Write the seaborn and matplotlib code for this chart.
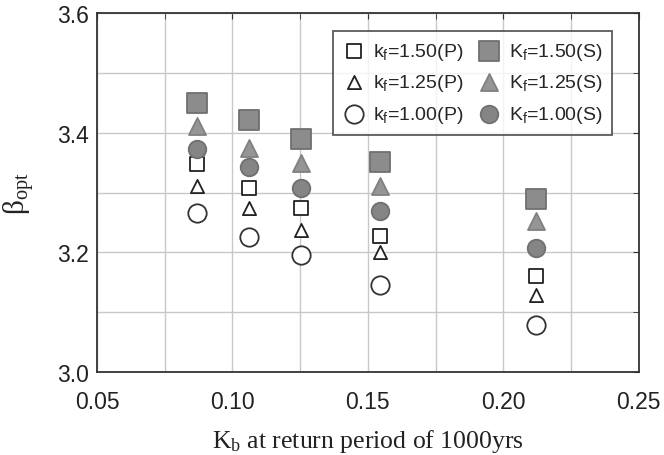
import numpy as np
import pandas as pd
import matplotlib
matplotlib.use("Agg")
import matplotlib.pyplot as plt
from matplotlib.ticker import MultipleLocator, FormatStrFormatter
import seaborn as sns

# Kb at return period of 1000yrs
kb = [0.087, 0.106, 0.1255, 0.1545, 0.212]

# beta_opt, P = open markers, S = filled markers
p150 = [3.348, 3.308, 3.275, 3.227, 3.161]
p125 = [3.311, 3.275, 3.238, 3.201, 3.128]
p100 = [3.266, 3.225, 3.195, 3.145, 3.079]
s150 = [3.449, 3.421, 3.389, 3.351, 3.289]
s125 = [3.411, 3.375, 3.350, 3.311, 3.253]
s100 = [3.373, 3.342, 3.307, 3.269, 3.207]

labels = [r"$\mathregular{k_f}$=1.50(P)", r"$\mathregular{k_f}$=1.25(P)", r"$\mathregular{k_f}$=1.00(P)",
          r"$\mathregular{K_f}$=1.50(S)", r"$\mathregular{K_f}$=1.25(S)", r"$\mathregular{K_f}$=1.00(S)"]
series = [p150, p125, p100, s150, s125, s100]

sns.set_style("white")
plt.rcParams["font.family"] = ["Liberation Sans", "DejaVu Sans"]

df = pd.DataFrame({
    "kb": kb * len(series),
    "beta": np.concatenate(series),
    "grp": np.repeat(labels, len(kb)),
})

fig, ax = plt.subplots(figsize=(6.64, 4.56), dpi=100)
fig.subplots_adjust(left=0.146, right=0.962, top=0.969, bottom=0.182)

styles = {
    labels[0]: dict(marker="s", s=115, facecolor="white", edgecolor="#222222"),
    labels[1]: dict(marker="^", s=90, facecolor="white", edgecolor="#222222"),
    labels[2]: dict(marker="o", s=175, facecolor="white", edgecolor="#333333"),
    labels[3]: dict(marker="s", s=190, facecolor="#8c8c8c", edgecolor="#707070"),
    labels[4]: dict(marker="^", s=150, facecolor="#959595", edgecolor="#808080"),
    labels[5]: dict(marker="o", s=160, facecolor="#858585", edgecolor="#707070"),
}

for lab in labels:
    sub = df[df["grp"] == lab]
    st = styles[lab]
    sns.scatterplot(data=sub, x="kb", y="beta", ax=ax, marker=st["marker"], s=st["s"],
                    color=st["facecolor"], edgecolor=st["edgecolor"], linewidth=1.3,
                    label=lab, zorder=3)

ax.set_xlim(0.05, 0.25)
ax.set_ylim(3.0, 3.6)
ax.xaxis.set_major_locator(MultipleLocator(0.05))
ax.xaxis.set_minor_locator(MultipleLocator(0.025))
ax.yaxis.set_major_locator(MultipleLocator(0.2))
ax.yaxis.set_minor_locator(MultipleLocator(0.1))
ax.xaxis.set_major_formatter(FormatStrFormatter("%.2f"))
ax.yaxis.set_major_formatter(FormatStrFormatter("%.1f"))
ax.grid(True, which="both", color="#c8c8c8", linewidth=1.0, zorder=0)
ax.set_axisbelow(True)
ax.tick_params(which="both", direction="in", top=True, right=True, length=4,
               color="#333333", labelsize=16.5, labelcolor="#222222")
ax.tick_params(axis="x", pad=13)
ax.tick_params(axis="y", pad=6)
for sp in ax.spines.values():
    sp.set_color("#333333")
    sp.set_linewidth(1.3)

ax.set_xlabel(r"$\mathregular{K_b}$ at return period of 1000yrs",
              fontfamily="Liberation Serif", fontsize=18.5, color="#222222", labelpad=10)
ax.set_ylabel(r"$\mathregular{\beta_{opt}}$", fontfamily="Liberation Serif",
              fontsize=21, color="#222222", labelpad=14)

leg = ax.legend(ncol=2, loc="upper left", bbox_to_anchor=(0.435, 0.95), borderaxespad=0,
                frameon=True, fancybox=False, edgecolor="#333333", fontsize=14,
                handletextpad=0.4, columnspacing=0.7, labelspacing=0.55,
                borderpad=0.5, handlelength=1.2)
leg.get_frame().set_linewidth(1.3)
leg.set_zorder(5)

fig.savefig("out.png", dpi=100)
